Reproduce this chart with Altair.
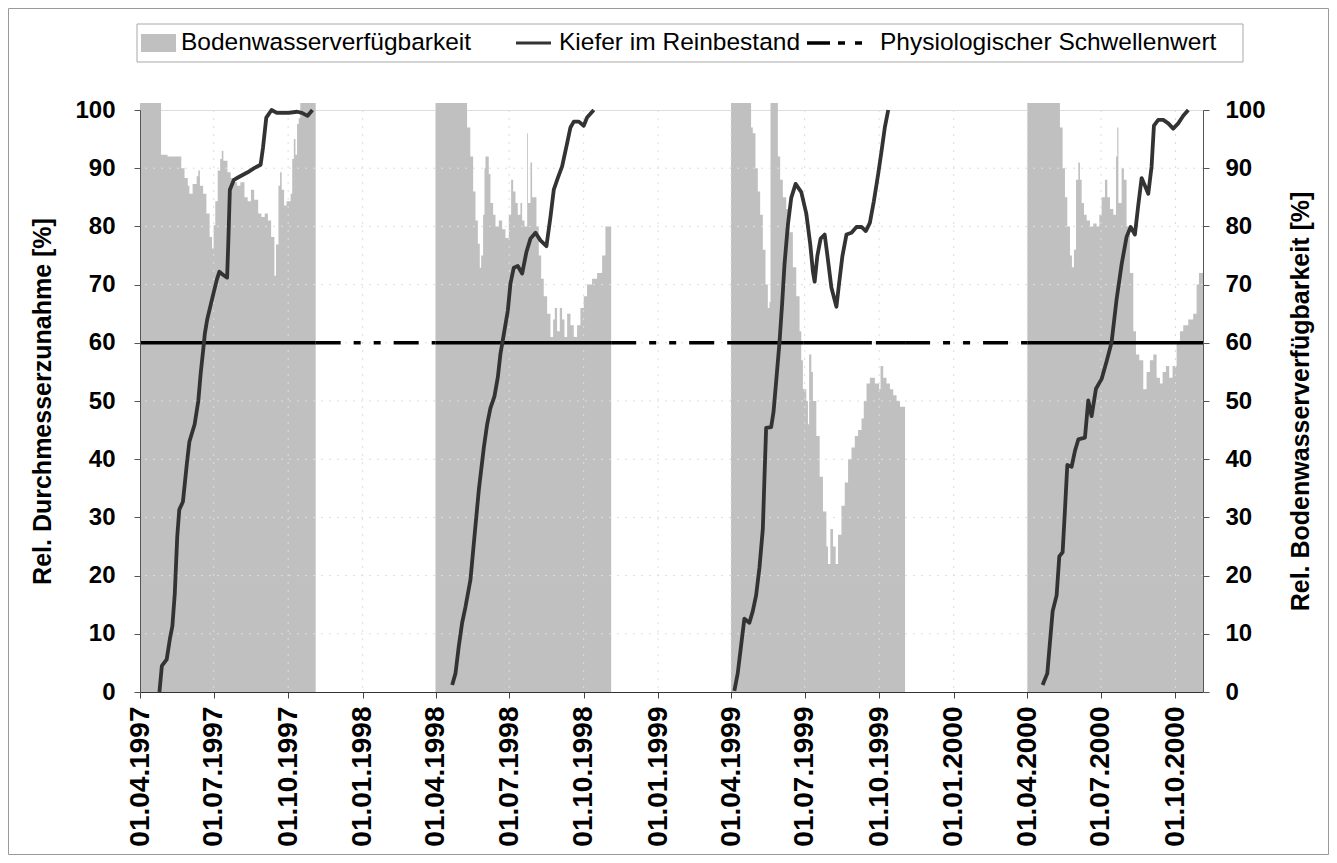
import altair as alt
import pandas as pd

# ---------------- data ----------------
# (day counted from 1 April of the season's year, value in %)
soil_1997 = [(0, 101.2), (26, 92.3), (34, 92), (46, 92), (51, 90), (55, 88.3), (59, 87), (61, 85.6),
             (65, 87.3), (70, 88.6), (72, 89.6), (74, 87), (78, 85.6), (82, 82.2), (86, 78.2), (89, 76.2),
             (91, 80.2), (93, 84.3), (96, 89.6), (99, 91.6), (101, 93), (103, 91.3), (108, 89.3), (112, 88.3),
             (116, 87.6), (120, 87), (124, 87.6), (129, 85), (133, 84.3), (137, 86.3), (141, 84.6), (146, 82.2),
             (150, 81.6), (154, 82.2), (158, 81), (162, 78.2), (166, 71.5), (168, 76.9), (171, 87), (173, 89.3),
             (175, 86.3), (178, 83.6), (181, 84.3), (186, 85.6), (188, 91.6), (190, 95), (192, 92.3),
             (194, 97.6), (196, 98.6), (198, 101.2), (217, 101.2)]
soil_1998 = [(0, 101.2), (39, 97), (43, 92), (46.5, 86), (49.4, 81), (52.3, 77), (54.7, 72.9), (56.4, 75),
             (58.8, 82), (60.5, 90), (61.7, 92), (63.8, 92), (65.8, 89), (67.9, 84), (71.2, 82), (74.1, 80),
             (78.2, 81), (82.3, 79.5), (86.4, 78), (90.5, 82), (93.4, 88), (95.9, 86), (98.8, 84), (101.6, 82),
             (104.9, 84), (107, 81), (109.9, 80), (113.2, 96), (114.2, 84), (117.3, 91), (119.3, 85),
             (124.7, 80), (127.6, 75), (130.5, 71), (133.7, 68), (137.9, 65), (142, 61), (145.3, 64),
             (147.3, 66), (150.2, 62), (153.5, 66), (156.4, 64), (159.3, 61), (162.6, 65), (166.7, 63),
             (170.8, 61), (174.9, 63), (179, 66), (183.1, 68), (187.2, 70), (193.4, 71), (199.6, 72),
             (205.8, 75), (209.9, 80), (217, 80)]
soil_1999 = [(0, 101.2), (24.8, 97), (26.9, 96), (30.2, 90), (33.1, 86), (36, 82), (39.3, 76), (42.6, 70),
             (45.5, 66), (47.5, 67), (48.8, 101.2), (57.9, 92), (60.7, 88), (64, 85), (68.2, 83), (72.3, 79),
             (76.4, 73), (80.6, 68), (84.7, 62), (86.8, 57), (88.8, 52), (93, 50), (95, 46), (96.5, 58),
             (99.2, 55), (101.2, 50), (105.4, 44), (109.5, 37), (113.6, 31), (117.8, 25), (119.8, 22),
             (122.7, 28), (126, 25), (129.3, 22), (132.2, 27), (136.4, 32), (140.5, 36), (144.6, 40),
             (148.8, 42), (152.9, 44), (157, 45), (161.2, 47), (164, 50), (167.4, 53), (171.5, 54),
             (177.7, 53), (183, 52), (184.7, 56), (188, 54), (192.1, 53), (196.3, 52), (200.4, 51),
             (204.5, 50), (208.7, 49), (215, 49)]
soil_2000 = [(0, 101.2), (40.3, 97), (43.6, 90), (46.5, 85), (49.4, 80), (52.7, 75), (55.1, 73), (57.6, 76),
             (60.1, 88), (63, 91), (65, 88), (67.1, 84), (70, 82), (73.3, 81), (77.4, 80), (81.5, 80.5),
             (85.6, 80), (88.9, 82), (91.8, 85), (95.9, 88), (98.8, 85), (102.1, 83), (106.2, 82), (109.5, 92),
             (111.1, 97), (112.5, 84), (116.5, 90), (119.3, 88), (122.6, 80), (126.7, 72), (130.9, 62),
             (134.2, 58), (138.3, 57), (143.2, 52), (147.3, 55), (151.4, 57), (155.6, 58), (159.7, 54),
             (163.8, 53), (167.1, 55), (171.2, 56), (175.3, 54), (179.4, 56), (184.4, 60), (188.5, 62),
             (192.6, 63), (198.8, 64), (204.9, 65), (209.1, 70), (212, 72), (217, 72)]

kiefer_1997 = [(24, 0), (27, 4.5), (33, 5.6), (37, 9.2), (40, 11.3), (43, 17), (46, 26.7), (48.5, 31.3),
               (53, 32.7), (58, 39.4), (61, 43), (67.5, 46), (72, 50), (75, 54.8), (79, 60), (80, 61.5),
               (83, 64), (89, 67.5), (95, 70.9), (98, 72.2), (102.5, 71.7), (107.6, 71.2), (109, 76.9),
               (111, 86.3), (116, 88), (121, 88.4), (133, 89.3), (141, 90), (149, 90.6), (152, 93.6),
               (156, 98.7), (162.5, 100), (169, 99.5), (183.5, 99.5), (194, 99.7), (200, 99.5), (207, 99),
               (213, 100)]
kiefer_1998 = [(20.6, 1.2), (24.7, 3.2), (28.8, 7.9), (32.9, 11.9), (37, 14.6), (43.2, 19.3), (48.1, 26.7),
               (53.5, 34.7), (59.7, 42), (63.8, 46), (67.9, 48.8), (72.8, 50.8), (77, 54.1), (80.2, 58.1),
               (84.4, 61.5), (89.3, 65.5), (92.6, 70.2), (96.7, 72.9), (101.6, 73.2), (107, 71.9),
               (112.3, 75.6), (117.3, 77.9), (123.5, 78.9), (129.6, 77.6), (137, 76.6), (142, 81.6),
               (146.1, 86.3), (151, 88.3), (156.4, 90.3), (162.6, 94.3), (166.7, 97), (170.8, 98), (177, 98),
               (183.1, 97.3), (187.2, 98.7), (195.5, 100)]
kiefer_1999 = [(4.1, 0.2), (8.3, 3.2), (12.4, 7.9), (16.5, 12.6), (22.7, 11.9), (26.9, 13.9), (31, 16.6),
               (35.1, 21.3), (39.3, 28), (41.3, 36.7), (43.4, 45.4), (49.6, 45.5), (52.5, 48.1), (55.8, 53.4),
               (59.9, 60.1), (63.2, 66.8), (66.1, 73.5), (70.2, 80.2), (74.4, 84.9), (79.8, 87.3),
               (86.8, 85.9), (93, 82.2), (97.9, 76.9), (101.2, 72.2), (103.3, 70.5), (106.6, 74.9),
               (110.7, 77.9), (115.7, 78.6), (119.8, 74.2), (124, 69.5), (130.2, 66.2), (133.5, 70.2),
               (137.6, 74.9), (142.6, 78.6), (148.8, 78.9), (155, 79.9), (161.2, 79.9), (166.5, 79.2),
               (171.5, 80.6), (176.4, 84.3), (181.8, 89), (186, 93), (190, 97), (194.2, 100)]
kiefer_2000 = [(18.9, 1.2), (24.7, 3.2), (28, 8.6), (31.3, 13.9), (36.2, 16.6), (39.5, 23.3), (43.6, 24),
               (46.5, 31.3), (49.4, 39), (54.7, 38.7), (58.8, 41.4), (63, 43.4), (71.2, 43.7), (75.3, 50.1),
               (79.4, 47.4), (84.8, 52.1), (91.8, 53.8), (97.9, 56.8), (104.1, 60.1), (110.3, 67.5),
               (116.5, 73.5), (122.6, 78.2), (127.6, 79.9), (132.9, 78.6), (137, 83.6), (141.2, 88.3),
               (145.3, 87), (149.4, 85.6), (153.5, 90.3), (156.4, 97.3), (161.7, 98.3), (167.9, 98.3),
               (174.1, 97.7), (180.2, 96.8), (186.4, 97.7), (192.6, 99), (198.8, 100)]

season_years = [1997, 1998, 1999, 2000]
threshold_value = 60
# threshold line pieces: start, end, line style as seen in the picture
threshold_segments = [
    ("1997-04-01", "1997-11-04", "solid"), ("1997-11-04", "1998-04-01", "dashdot"),
    ("1998-04-01", "1998-11-04", "solid"), ("1998-11-04", "1999-04-01", "dashdot"),
    ("1999-04-01", "1999-06-30", "solid"), ("1999-06-30", "1999-11-02", "dash"),
    ("1999-11-02", "2000-04-01", "dashdot"), ("2000-04-01", "2000-11-04", "solid"),
]
x_tick_dates = ["1997-04-01", "1997-07-01", "1997-10-01", "1998-01-01", "1998-04-01", "1998-07-01",
                "1998-10-01", "1999-01-01", "1999-04-01", "1999-07-01", "1999-10-01", "2000-01-01",
                "2000-04-01", "2000-07-01", "2000-10-01"]
x_domain = ["1997-04-01", "2000-11-04"]
y_ticks = [0, 10, 20, 30, 40, 50, 60, 70, 80, 90, 100]
y_grid = [10, 20, 30, 40, 50, 60, 70, 80, 90]

legend_labels = ["Bodenwasserverfügbarkeit", "Kiefer im Reinbestand", "Physiologischer Schwellenwert"]
left_title = "Rel. Durchmesserzunahme [%]"
right_title = "Rel. Bodenwasserverfügbarkeit [%]"

# ---------------- build tables ----------------
def to_frame(seasons):
    rows = []
    for year, pairs in zip(season_years, seasons):
        start = pd.Timestamp(f"{year}-04-01")
        for d, v in pairs:
            rows.append({"date": start + pd.Timedelta(days=d), "value": v, "season": str(year)})
    return pd.DataFrame(rows)


soil_df = to_frame([soil_1997, soil_1998, soil_1999, soil_2000])
kiefer_df = to_frame([kiefer_1997, kiefer_1998, kiefer_1999, kiefer_2000])
thr_df = pd.DataFrame({
    "start": [pd.Timestamp(s) for s, _, _ in threshold_segments],
    "end": [pd.Timestamp(e) for _, e, _ in threshold_segments],
    "style": [st for _, _, st in threshold_segments],
    "value": threshold_value,
})
vgrid_df = pd.DataFrame({"date": [pd.Timestamp(d) for d in x_tick_dates[1:]]})
hgrid_df = pd.DataFrame({"value": y_grid})
one = pd.DataFrame({"k": [0]})


def dt(s):
    return alt.DateTime(year=int(s[:4]), month=int(s[5:7]), date=int(s[8:10]))


W, H = 1063, 582
xs = alt.Scale(domain=[dt(x_domain[0]), dt(x_domain[1])])
ys = alt.Scale(domain=[0, 100], nice=False, zero=True)

FONT = "Liberation Sans"
GRAY = "#c0c0c0"

x_axis = alt.Axis(values=[dt(d) for d in x_tick_dates], format="%d.%m.%Y", labelAngle=270,
                  labelFontSize=28, labelFontWeight="bold", labelColor="#000", labelFont=FONT,
                  tickSize=6, tickColor="#444", domainColor="#333", labelPadding=8, grid=False,
                  title=None, labelOverlap=False, labelFlush=False, zindex=1)
left_axis = alt.Axis(values=y_ticks, orient="left", title=left_title, labelFontSize=24,
                     labelFontWeight="bold", labelColor="#000", labelFont=FONT, tickSize=6, labelPadding=19,
                     grid=False, domainColor="#555", tickColor="#555", titleFontSize=25,
                     titleFontWeight="bold", titleFont=FONT, titleColor="#000", titleAngle=270, titleX=-98,
                     titleY=H / 2, titleAlign="center", titleBaseline="middle", zindex=1)
right_axis = alt.Axis(values=y_ticks, orient="right", title=right_title, labelFontSize=24,
                      labelFontWeight="bold", labelColor="#000", labelFont=FONT, tickSize=6, labelPadding=16,
                      grid=False, domainColor="#555", tickColor="#555", titleFontSize=25,
                      titleFontWeight="bold", titleFont=FONT, titleColor="#000", titleAngle=270, titleX=97,
                      titleY=H / 2, titleAlign="center", titleBaseline="middle", zindex=1)

area = alt.Chart(soil_df).mark_area(interpolate="step-after", color=GRAY, clip=False).encode(
    x=alt.X("date:T", scale=xs, axis=x_axis),
    y=alt.Y("value:Q", scale=ys, axis=right_axis, stack=None),
    detail="season:N",
)

hgrid = alt.Chart(hgrid_df).mark_rule(color="#dedede", strokeWidth=1, strokeDash=[2, 6]).encode(
    y=alt.Y("value:Q", scale=ys, axis=None)
)
vgrid = alt.Chart(vgrid_df).mark_rule(color="#dedede", strokeWidth=1, strokeDash=[2, 6]).encode(
    x=alt.X("date:T", scale=xs, axis=x_axis)
)

thr = alt.Chart(thr_df).mark_rule(color="#000", strokeWidth=3.5).encode(
    x=alt.X("start:T", scale=xs, axis=x_axis),
    x2="end:T",
    y=alt.Y("value:Q", scale=ys, axis=None),
    strokeDash=alt.StrokeDash("style:N", legend=None, scale=alt.Scale(
        domain=["solid", "dashdot", "dash"], range=[[1, 0], [25, 13, 7, 13, 7, 13], [68, 4]])),
)

line = alt.Chart(kiefer_df).mark_line(color="#333333", strokeWidth=3.8, strokeJoin="round").encode(
    x=alt.X("date:T", scale=xs, axis=x_axis),
    y=alt.Y("value:Q", scale=ys, axis=left_axis),
    detail="season:N",
)

# ---------------- legend (drawn above the plot) ----------------
LY = -67
leg_box = alt.Chart(one).mark_rect(fill="white", stroke="#a8a8a8", strokeWidth=1).encode(
    x=alt.value(-3), x2=alt.value(1103), y=alt.value(-86), y2=alt.value(-48))
leg_sw = alt.Chart(one).mark_rect(fill=GRAY).encode(
    x=alt.value(1), x2=alt.value(36), y=alt.value(-76), y2=alt.value(-58))
leg_line = alt.Chart(one).mark_rule(color="#333333", strokeWidth=3).encode(
    x=alt.value(376), x2=alt.value(411), y=alt.value(LY))
leg_dash = alt.Chart(one).mark_rule(color="#000", strokeWidth=3.5, strokeDash=[23, 8, 7, 10, 7, 30]).encode(
    x=alt.value(667), x2=alt.value(724), y=alt.value(LY))
leg_texts = [
    alt.Chart(one).mark_text(text=t, align="left", baseline="middle", font=FONT, fontSize=24.5,
                             color="#000").encode(x=alt.value(xp), y=alt.value(LY))
    for t, xp in zip(legend_labels, [41, 419, 740])
]

frame = alt.Chart(one).mark_rect(fillOpacity=0, stroke="#9a9a9a", strokeWidth=1).encode(
    x=alt.value(-131.5), x2=alt.value(W + 125.5), y=alt.value(-101.5), y2=alt.value(H + 162.5))

chart = alt.layer(
    area, hgrid, vgrid, thr, line, leg_box, leg_sw, leg_line, leg_dash, *leg_texts, frame
).resolve_scale(y="independent").properties(
    width=W, height=H,
    padding={"left": 132, "top": 102, "right": 126, "bottom": 163},
    autosize=alt.AutoSizeParams(type="none"),
).configure_view(stroke="#8c8c8c", strokeWidth=1).configure(font=FONT, background="white")

chart.save("out.html", embed_options={"renderer": "svg", "actions": False})
